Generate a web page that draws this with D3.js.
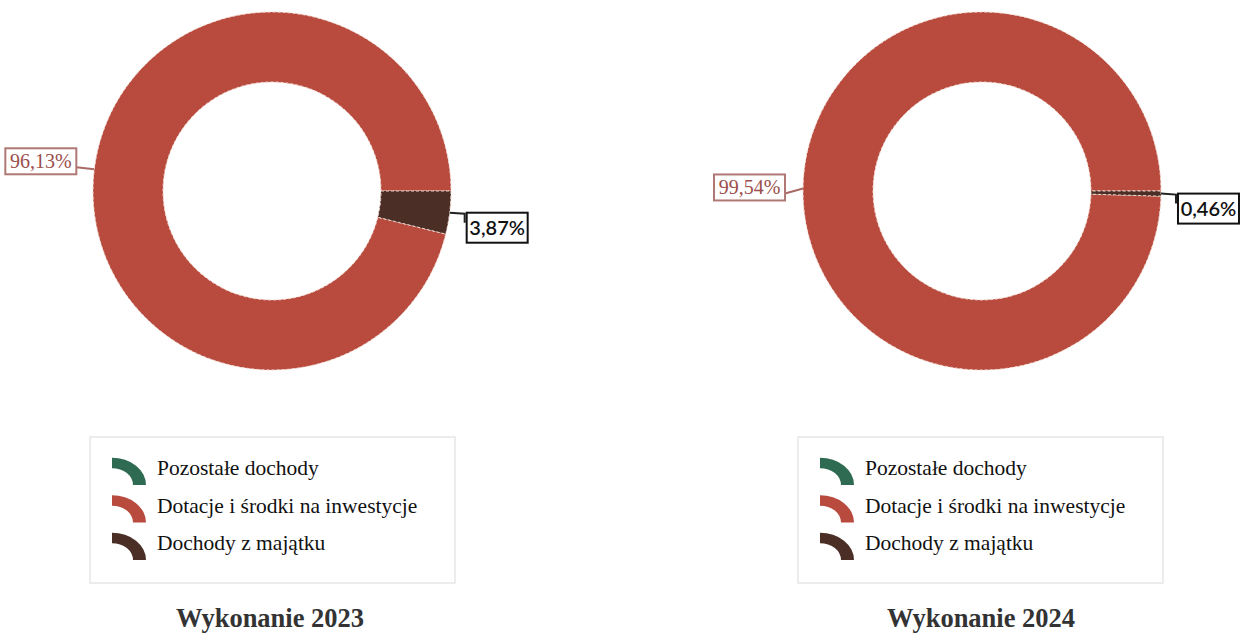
<!DOCTYPE html>
<html><head><meta charset="utf-8">
<script src="https://cdn.jsdelivr.net/npm/d3@7"></script>
<style>body{margin:0;background:#fff}svg{display:block}</style>
</head><body>
<svg id="c" width="1247" height="640"></svg>
<script>
const categories = ["Pozostałe dochody", "Dotacje i środki na inwestycje", "Dochody z majątku"];
const values2023 = [0, 96.13, 3.87];
const values2024 = [0, 99.54, 0.46];
const labels2023 = ["", "96,13%", "3,87%"];
const labels2024 = ["", "99,54%", "0,46%"];
const titles = ["Wykonanie 2023", "Wykonanie 2024"];
const colors = ["#2f6b52", "#b84a3e", "#4b2f27"];

const svg = d3.select("#c");
const charts = [
  {cx: 272, values: values2023, labels: labels2023, title: titles[0], legX: 90, tx: 270},
  {cx: 982, values: values2024, labels: labels2024, title: titles[1], legX: 798, tx: 981}
];
const cy = 191, R = 179, r = 109;
const color = d3.scaleOrdinal().domain(categories).range(colors);

charts.forEach(ch => {
  const total = d3.sum(ch.values);
  const start = Math.PI / 2 + 2 * Math.PI * ch.values[2] / total;
  const pie = d3.pie().sort(null).value(d => d.v).startAngle(start).endAngle(start + 2 * Math.PI);
  const data = categories.map((c, i) => ({c, v: ch.values[i], l: ch.labels[i]}));
  const arcs = pie(data);
  const arc = d3.arc().innerRadius(r).outerRadius(R);
  const g = svg.append("g").attr("transform", `translate(${ch.cx},${cy})`);
  g.selectAll("path").data(arcs.filter(a => a.data.v > 0)).join("path")
    .attr("d", arc).attr("fill", d => color(d.data.c))
    .attr("stroke", "#f3d9cf").attr("stroke-width", 1).attr("stroke-dasharray", "3,2");

  arcs.filter(a => a.data.v > 0).forEach(a => {
    const mid = (a.startAngle + a.endAngle) / 2;
    const px = R * Math.sin(mid), py = -R * Math.cos(mid);
    const isRed = a.data.c === categories[1];
    const lg = g.append("g");
    if (isRed) {
      const bw = 71, bh = 26;
      const ly = -245 * Math.cos(mid);
      const bx = px - 18 - bw, by = ly - bh / 2;
      lg.append("path").attr("d", `M${px},${py}L${bx + bw},${Math.min(ly + 6, by + bh - 3)}`)
        .attr("stroke", "#a96a66").attr("stroke-width", 2).attr("fill", "none");
      lg.append("rect").attr("x", bx).attr("y", by).attr("width", bw).attr("height", bh)
        .attr("fill", "#fff").attr("stroke", "#b07874").attr("stroke-width", 2);
      lg.append("text").attr("x", bx + bw / 2).attr("y", by + bh / 2 + 7)
        .attr("text-anchor", "middle").attr("font-family", "Liberation Serif")
        .attr("font-size", 20).attr("fill", "#9b4e4b").text(a.data.l);
    } else {
      const bw = 61, bh = 30;
      const bx = px + 17, by = py;
      lg.append("path").attr("d", `M${px},${py}L${bx - 2},${py + 1}L${bx - 2},${py + 10}`)
        .attr("stroke", "#222").attr("stroke-width", 2).attr("fill", "none");
      lg.append("rect").attr("x", bx).attr("y", by).attr("width", bw).attr("height", bh)
        .attr("fill", "#fff").attr("stroke", "#111").attr("stroke-width", 2);
      lg.append("text").attr("x", bx + bw / 2).attr("y", by + bh / 2 + 7)
        .attr("text-anchor", "middle").attr("font-family", "Lato").attr("font-weight", 600)
        .attr("font-size", 20).attr("fill", "#111").text(a.data.l);
    }
  });

  // legend
  const leg = svg.append("g").attr("transform", `translate(${ch.legX},437)`);
  leg.append("rect").attr("x", 0).attr("y", 0).attr("width", 365).attr("height", 146)
    .attr("fill", "#fff").attr("stroke", "#e6e6e6").attr("stroke-width", 1.5);
  const sw = d3.arc().innerRadius(21).outerRadius(34).startAngle(0).endAngle(Math.PI / 2);
  categories.forEach((c, i) => {
    const y = 31 + i * 37.5;
    leg.append("path").attr("d", sw())
      .attr("transform", `translate(22,${y + 17}) scale(1,0.8)`)
      .attr("fill", color(c));
    leg.append("text").attr("x", 67).attr("y", y + 7).attr("font-family", "Liberation Serif")
      .attr("font-size", 21.5).attr("fill", "#111").text(c);
  });

  svg.append("text").attr("x", ch.tx).attr("y", 627).attr("text-anchor", "middle")
    .attr("font-family", "Liberation Serif").attr("font-weight", "bold")
    .attr("font-size", 26.5).attr("fill", "#333").text(ch.title);
});
</script>
</body></html>
